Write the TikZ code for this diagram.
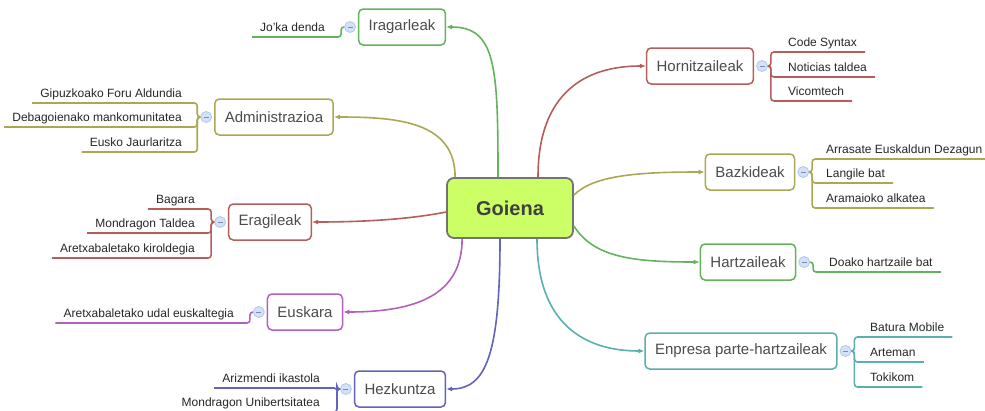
\documentclass[tikz,border=0pt]{standalone}
\usepackage{fontspec}
\setmainfont{Liberation Sans}
\usetikzlibrary{positioning,arrows.meta}
\definecolor{cgreen}{HTML}{62B35B}
\definecolor{colive}{HTML}{AAA853}
\definecolor{cred}{HTML}{B55E5A}
\definecolor{cpurple}{HTML}{B360BA}
\definecolor{cblue}{HTML}{6363BB}
\definecolor{cteal}{HTML}{5CAFAF}
\definecolor{rootfill}{HTML}{CCFF66}
\definecolor{foldfill}{HTML}{D3E1F9}
\definecolor{foldline}{HTML}{AFC8F0}

\begin{document}
\begin{tikzpicture}[x=1pt,y=-1pt,
  root/.style={draw=black!55, fill=rootfill, rounded corners=7pt, line width=1.8pt,
    minimum width=126pt, minimum height=60pt, text=black!75,
    font=\bfseries\fontsize{20}{24}\selectfont},
  topic/.style={draw, rounded corners=4.5pt, line width=1.5pt, fill=white,
    minimum height=36pt, inner xsep=10pt, text=black!70,
    font=\fontsize{15}{18}\selectfont},
  fold/.style={circle, draw=foldline, fill=foldfill, minimum size=11pt, inner sep=0pt,
    line width=0.8pt, path picture={\draw[foldline!70!black, line width=0.6pt]
      ([xshift=-2.5pt]path picture bounding box.center) --
      ([xshift=2.5pt]path picture bounding box.center);}},
  lleaf/.style={anchor=south east, inner xsep=8pt, inner ysep=5.5pt, text depth=0pt,
    text=black!85, font=\fontsize{12}{14}\selectfont},
  rleaf/.style={lleaf, anchor=south west},
  branch/.style={line width=1.6pt, -{Latex[length=6pt,width=5pt]}},
  twig/.style={line width=1.6pt, rounded corners=3pt}]
\useasboundingbox (0,0) rectangle (985,410);

\node[root] (goiena) at (510,208) {Goiena};

% left side
\node[topic, draw=cgreen] (ira) at (402,27) {Iragarleak};
\node[topic, draw=colive] (adm) at (274,117) {Administrazioa};
\node[topic, draw=cred] (era) at (270,222) {Eragileak};
\node[topic, draw=cpurple] (eus) at (305,312) {Euskara};
\node[topic, draw=cblue] (hez) at (400,389) {Hezkuntza};

% right side
\node[topic, draw=cred] (hor) at (700,66) {Hornitzaileak};
\node[topic, draw=colive] (baz) at (750,172) {Bazkideak};
\node[topic, draw=cgreen] (har) at (748,262) {Hartzaileak};
\node[topic, draw=cteal] (enp) at (741,351) {Enpresa parte-hartzaileak};

\node[fold, left=2pt of ira] (fira) {};
\node[fold, left=2pt of adm] (fadm) {};
\node[fold, left=2pt of era] (fera) {};
\node[fold, left=2pt of eus] (feus) {};
\node[fold, left=2pt of hez] (fhez) {};
\node[fold, right=2pt of hor] (fhor) {};
\node[fold, right=2pt of baz] (fbaz) {};
\node[fold, right=2pt of har] (fhar) {};
\node[fold, right=2pt of enp] (fenp) {};

% leaves
\node[lleaf] (joka) at (333,37) {Jo'ka denda};
\node[lleaf] (gipu) at (190,103) {Gipuzkoako Foru Aldundia};
\node[lleaf] (deba) at (190,127) {Debagoienako mankomunitatea};
\node[lleaf] (eusko) at (190,152) {Eusko Jaurlaritza};
\node[lleaf] (bag) at (203,209) {Bagara};
\node[lleaf] (mta) at (203,233) {Mondragon Taldea};
\node[lleaf] (kir) at (203,258) {Aretxabaletako kiroldegia};
\node[lleaf] (udal) at (242,323) {Aretxabaletako udal euskaltegia};
\node[lleaf] (ariz) at (328,388) {Arizmendi ikastola};
\node[lleaf] (muni) at (328,412) {Mondragon Unibertsitatea};
\node[rleaf] (code) at (780,52) {Code Syntax};
\node[rleaf] (noti) at (780,77) {Noticias taldea};
\node[rleaf] (vico) at (780,101) {Vicomtech};
\node[rleaf] (aed) at (818,159) {Arrasate Euskaldun Dezagun};
\node[rleaf] (lan) at (818,183) {Langile bat};
\node[rleaf] (ara) at (818,208) {Aramaioko alkatea};
\node[rleaf] (doa) at (821,272) {Doako hartzaile bat};
\node[rleaf] (bat) at (862,337) {Batura Mobile};
\node[rleaf] (art) at (862,362) {Arteman};
\node[rleaf] (tok) at (862,387) {Tokikom};

% branches from the root
\draw[branch, cgreen] ([xshift=-12pt]goiena.north) .. controls +(0,-110) and +(50,0) .. (ira.east);
\draw[branch, colive] ([xshift=9pt]goiena.north west) .. controls +(0,-55) and +(65,0) .. (adm.east);
\draw[branch, cred] ([yshift=-4pt]goiena.west) .. controls +(-40,8) and +(45,0) .. (era.east);
\draw[branch, cpurple] ([xshift=16pt]goiena.south west) .. controls +(0,55) and +(75,0) .. (eus.east);
\draw[branch, cblue] ([xshift=-10pt]goiena.south) .. controls +(0,115) and +(40,0) .. (hez.east);
\draw[branch, cred] ([xshift=28pt]goiena.north) .. controls +(0,-85) and +(-60,0) .. (hor.west);
\draw[branch, colive] ([yshift=13pt]goiena.east) .. controls +(20,-20) and +(-65,0) .. (baz.west);
\draw[branch, cgreen] ([yshift=-18pt]goiena.east) .. controls +(20,32) and +(-65,0) .. (har.west);
\draw[branch, cteal] ([xshift=27pt]goiena.south) .. controls +(0,85) and +(-60,0) .. (enp.west);

% twigs to the leaves
\draw[twig, cgreen] (fira.west) -- ++(-3,0) |- (joka.south west);
\foreach \l in {gipu,deba,eusko}
  \draw[twig, colive] (fadm.west) -- ++(-3,0) |- (\l.south west);
\foreach \l in {bag,mta,kir}
  \draw[twig, cred] (fera.west) -- ++(-3,0) |- (\l.south west);
\draw[twig, cpurple] (feus.west) -- ++(-3,0) |- (udal.south west);
\foreach \l in {ariz,muni}
  \draw[twig, cblue] (fhez.west) -- ++(-3,0) |- (\l.south west);
\foreach \l in {code,noti,vico}
  \draw[twig, cred] (fhor.east) -- ++(3,0) |- (\l.south east);
\foreach \l in {aed,lan,ara}
  \draw[twig, colive] (fbaz.east) -- ++(3,0) |- (\l.south east);
\draw[twig, cgreen] (fhar.east) -- ++(3,0) |- (doa.south east);
\foreach \l in {bat,art,tok}
  \draw[twig, cteal] (fenp.east) -- ++(3,0) |- (\l.south east);
\end{tikzpicture}
\end{document}
